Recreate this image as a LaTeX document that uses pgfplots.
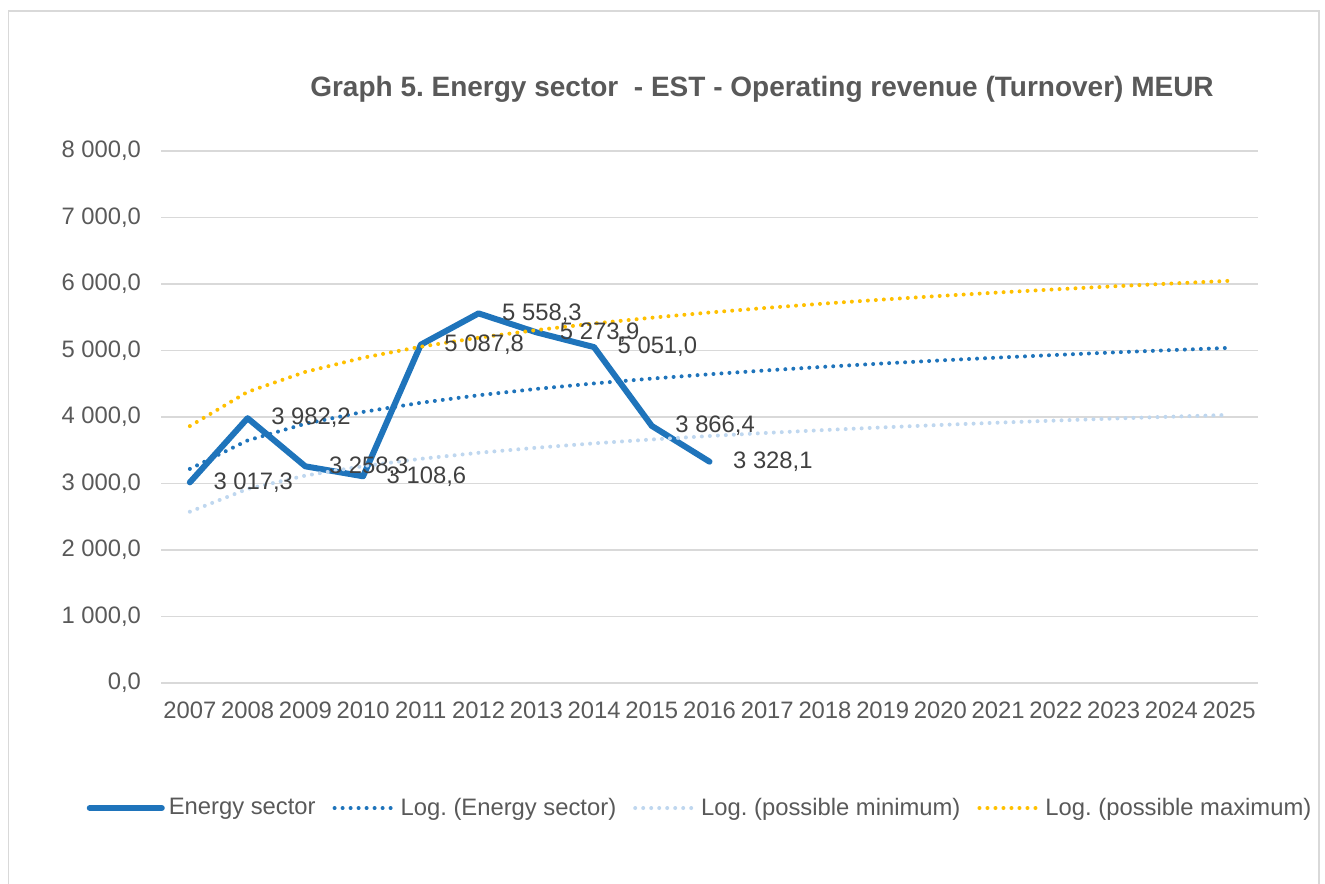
\documentclass[border=0pt]{standalone}
\usepackage{pgfplots}
\pgfplotsset{compat=1.18}
\usepackage{fontspec}
\setmainfont{Liberation Sans}
\frenchspacing
\definecolor{txt}{HTML}{595959}
\definecolor{lbl}{HTML}{404040}
\definecolor{gridc}{HTML}{D9D9D9}
\definecolor{eblue}{HTML}{1F74BB}
\definecolor{lblue}{HTML}{BFD7EF}
\definecolor{gold}{HTML}{FFC000}
\tikzset{dotline/.style={line width=2pt, line cap=round, dash pattern=on 0pt off 4pt}}
\pgfplotsset{
  longimg/.style={legend image code/.code={\draw[##1] (0pt,0pt) -- (36pt,0pt);}},
  shortimg/.style={legend image code/.code={\draw[##1] (0pt,0pt) -- (30pt,0pt);}},
}
\begin{document}
\begin{tikzpicture}
\path[use as bounding box] (0,0) rectangle (662.5pt,441.5pt);
\draw[gridc, line width=0.75pt] (4.25pt,-5pt) -- (4.25pt,436pt) -- (659.5pt,436pt) -- (659.5pt,-5pt);
\node[anchor=base, inner sep=0pt, font=\fontsize{14}{16}\selectfont\bfseries, text=txt] at (381pt,393pt) {Graph 5. Energy sector\ \ - EST - Operating revenue (Turnover) MEUR};
\begin{axis}[
  at={(80.5pt,100pt)}, anchor=south west,
  scale only axis, width=548.5pt, height=266pt,
  xmin=-0.5, xmax=18.5, ymin=0, ymax=8000,
  clip=false,
  axis line style={draw=none},
  major tick length=0pt,
  ymajorgrids, grid style={gridc, line width=0.75pt},
  xtick={0,1,...,18},
  xticklabels={2007,2008,2009,2010,2011,2012,2013,2014,2015,2016,2017,2018,2019,2020,2021,2022,2023,2024,2025},
  ytick={0,1000,2000,3000,4000,5000,6000,7000,8000},
  yticklabels={{0,0},{1 000,0},{2 000,0},{3 000,0},{4 000,0},{5 000,0},{6 000,0},{7 000,0},{8 000,0}},
  tick label style={font=\fontsize{11.9}{14}\selectfont, text=txt},
  xticklabel style={yshift=-6pt},
  yticklabel style={xshift=-6.5pt},
  legend columns=4,
  legend style={at={(0.4923,-0.235)}, anchor=center, draw=none, fill=none,
    font=\fontsize{11.9}{14}\selectfont, text=txt,
    /tikz/every even column/.append style={column sep=6.5pt},
    /tikz/every odd column/.append style={column sep=0pt}},
]
\addplot[eblue, line width=3pt, line join=round, line cap=round,
  nodes near coords, point meta=explicit symbolic,
  nodes near coords style={anchor=west, xshift=7pt, font=\fontsize{11.9}{14}\selectfont, text=lbl},
  longimg]
coordinates {
(0,3017.3) [3 017,3]
(1,3982.2) [3 982,2]
(2,3258.3) [3 258,3]
(3,3108.6) [3 108,6]
(4,5087.8) [5 087,8]
(5,5558.3) [5 558,3]
(6,5273.9) [5 273,9]
(7,5051.0) [5 051,0]
(8,3866.4) [3 866,4]
(9,3328.1) [3 328,1]
};
\addlegendentry{Energy sector}
\addplot[eblue, dotline, shortimg]
coordinates {
(0,3219.4) (1,3647.9) (2,3898.6) (3,4076.4) (4,4214.3) (5,4327.1) (6,4422.3) (7,4504.9) (8,4577.7) (9,4642.9)
(10,4701.8) (11,4755.6) (12,4805.0) (13,4850.9) (14,4893.6) (15,4933.4) (16,4970.9) (17,5006.2) (18,5039.6)
};
\addlegendentry{Log. (Energy sector)}
\addplot[lblue, dotline, shortimg]
coordinates {
(0,2575.5) (1,2918.3) (2,3118.9) (3,3261.1) (4,3371.4) (5,3461.7) (6,3537.8) (7,3603.9) (8,3662.2) (9,3714.3)
(10,3761.4) (11,3804.5) (12,3844.0) (13,3880.7) (14,3914.9) (15,3946.7) (16,3976.7) (17,4005.0) (18,4031.7)
};
\addlegendentry{Log. (possible minimum)}
\addplot[gold, dotline, shortimg]
coordinates {
(0,3863.3) (1,4377.5) (2,4678.3) (3,4891.7) (4,5057.2) (5,5192.5) (6,5306.8) (7,5405.9) (8,5493.2) (9,5571.5)
(10,5642.2) (11,5706.7) (12,5766.0) (13,5821.1) (14,5872.3) (15,5920.1) (16,5965.1) (17,6007.4) (18,6047.5)
};
\addlegendentry{Log. (possible maximum)}
\end{axis}
\end{tikzpicture}
\end{document}
